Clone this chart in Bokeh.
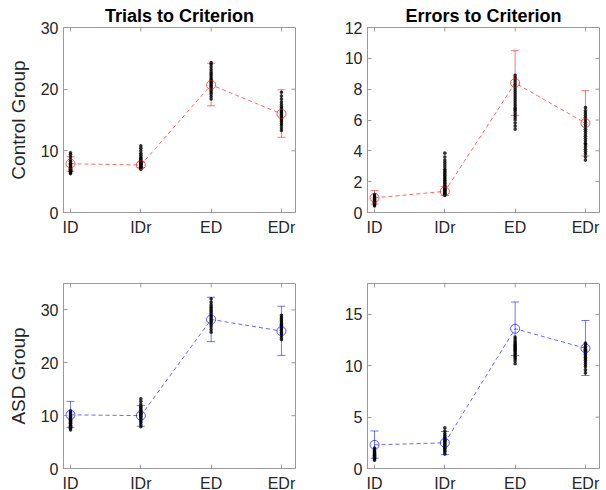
from bokeh.plotting import figure
from bokeh.models import (Range1d, FixedTicker, Whisker, TeeHead,
                          ColumnDataSource)
from bokeh.layouts import column, row
from bokeh.embed import file_html
from bokeh.resources import INLINE

# ---------------- data ----------------
categories = ["ID", "IDr", "ED", "EDr"]
cat_x = [1, 2, 3, 4]

# Control group, trials to criterion
ctl_trials_mean = [7.9, 7.7, 20.7, 16.0]
ctl_trials_lo = [6.7, 7.3, 17.3, 12.2]
ctl_trials_hi = [9.05, 8.2, 24.2, 19.9]
ctl_trials_dots = [
    [6.3, 6.45, 6.55, 6.6, 6.7, 6.75, 6.8, 6.9, 6.95, 7.0, 7.1, 7.2, 7.3, 7.45, 7.6, 7.8, 8.0, 8.3, 8.6, 9.0, 9.4, 9.7],
    [7.0, 7.2, 7.3, 7.4, 7.5, 7.6, 7.7, 7.8, 7.9, 8.0, 8.1, 8.25, 8.4, 8.6, 8.8, 9.0, 9.3, 9.6, 10.0, 10.4, 10.8],
    [18.4, 18.8, 19.2, 19.5, 19.8, 20.1, 20.4, 20.6, 20.8, 21.0, 21.2, 21.4, 21.6, 21.9, 22.2, 22.5, 22.8, 23.2, 23.6, 24.0, 24.3],
    [13.3, 13.7, 14.1, 14.4, 14.7, 15.0, 15.2, 15.4, 15.6, 15.8, 16.0, 16.2, 16.4, 16.6, 16.9, 17.2, 17.5, 17.9, 18.4, 18.9, 19.5],
]

# Control group, errors to criterion
ctl_errors_mean = [0.95, 1.37, 8.4, 5.8]
ctl_errors_lo = [0.55, 1.1, 6.3, 3.67]
ctl_errors_hi = [1.42, 1.7, 10.5, 7.9]
ctl_errors_dots = [
    [0.42, 0.48, 0.52, 0.56, 0.6, 0.63, 0.66, 0.7, 0.73, 0.76, 0.8, 0.84, 0.88, 0.93, 0.98, 1.04, 1.1, 1.18],
    [1.1, 1.15, 1.2, 1.25, 1.3, 1.35, 1.4, 1.45, 1.5, 1.55, 1.6, 1.7, 1.8, 1.9, 2.0, 2.1, 2.2, 2.3, 2.4, 2.5, 2.6, 2.7, 2.8, 2.95, 3.1, 3.25, 3.4, 3.6, 3.85],
    [5.4, 5.6, 5.8, 6.0, 6.15, 6.3, 6.45, 6.6, 6.7, 6.8, 6.95, 7.1, 7.25, 7.4, 7.55, 7.7, 7.85, 8.0, 8.15, 8.3, 8.45, 8.6, 8.75, 8.9],
    [3.4, 3.6, 3.8, 3.95, 4.1, 4.25, 4.4, 4.5, 4.65, 4.8, 4.95, 5.1, 5.25, 5.4, 5.55, 5.7, 5.85, 6.0, 6.15, 6.3, 6.45, 6.6, 6.8],
]

# ASD group, trials to criterion
asd_trials_mean = [10.15, 10.0, 28.2, 26.0]
asd_trials_lo = [7.8, 8.0, 24.0, 21.4]
asd_trials_hi = [12.7, 11.9, 32.4, 30.7]
asd_trials_dots = [
    [7.3, 7.6, 7.8, 8.0, 8.2, 8.4, 8.55, 8.7, 8.85, 9.0, 9.15, 9.3, 9.45, 9.6, 9.8, 10.0, 10.3, 10.6, 10.9],
    [7.9, 8.3, 8.7, 9.0, 9.3, 9.55, 9.8, 10.0, 10.2, 10.4, 10.6, 10.8, 11.0, 11.25, 11.5, 11.8, 12.2, 12.7, 13.2],
    [25.8, 26.3, 26.8, 27.2, 27.6, 27.9, 28.2, 28.5, 28.8, 29.1, 29.4, 29.7, 30.0, 30.3, 30.6, 31.0, 31.5, 32.1],
    [24.4, 24.8, 25.2, 25.5, 25.8, 26.1, 26.4, 26.6, 26.8, 27.0, 27.2, 27.4, 27.7, 28.0, 28.3, 28.6, 29.0],
]

# ASD group, errors to criterion
asd_errors_mean = [2.3, 2.5, 13.6, 11.7]
asd_errors_lo = [1.0, 1.35, 11.0, 9.05]
asd_errors_hi = [3.65, 3.6, 16.2, 14.4]
asd_errors_dots = [
    [0.8, 0.9, 0.98, 1.05, 1.1, 1.15, 1.2, 1.25, 1.3, 1.35, 1.4, 1.45, 1.5, 1.57, 1.65, 1.75, 1.87, 2.0],
    [1.4, 1.6, 1.75, 1.9, 2.0, 2.1, 2.2, 2.3, 2.4, 2.5, 2.6, 2.7, 2.8, 2.9, 3.05, 3.2, 3.4, 3.65, 3.95],
    [10.2, 10.45, 10.65, 10.8, 10.95, 11.1, 11.25, 11.4, 11.5, 11.6, 11.7, 11.8, 11.9, 12.0, 12.1, 12.25, 12.4, 12.6, 12.8],
    [9.3, 9.6, 9.9, 10.1, 10.3, 10.5, 10.65, 10.8, 10.95, 11.1, 11.25, 11.4, 11.5, 11.6, 11.75, 11.9, 12.05, 12.2],
]

titles = ["Trials to Criterion", "Errors to Criterion"]
row_labels = ["Control Group", "ASD Group"]

FONT = "Liberation Sans"
GREY = "#9a9a9a"
TXT = "#262626"
X_START, X_END = 0.9, 4.2


def make_panel(mean, lo, hi, dots, y_end, yticks, color, title, ylabel,
               b_left, b_right, b_top, b_bottom):
    p = figure(frame_width=232, frame_height=185, output_backend="svg",
               toolbar_location=None, x_range=Range1d(X_START, X_END),
               y_range=Range1d(0, y_end),
               min_border_left=b_left, min_border_right=b_right,
               min_border_top=b_top, min_border_bottom=b_bottom,
               background_fill_color="white", border_fill_color="white")
    p.xgrid.visible = False
    p.ygrid.visible = False
    p.outline_line_color = GREY
    p.outline_line_width = 1

    if title:
        p.title.text = title
        p.title.align = "center"
        p.title.text_font = FONT
        p.title.text_font_size = "18px"
        p.title.text_font_style = "bold"
        p.title.text_color = "black"
        p.title.standoff = 3

    # error bars
    src = ColumnDataSource(dict(x=cat_x, lower=lo, upper=hi))
    w = Whisker(base="x", lower="lower", upper="upper", source=src,
                line_color=color, line_alpha=0.55, line_width=1,
                upper_head=TeeHead(size=8, line_color=color, line_alpha=0.55),
                lower_head=TeeHead(size=8, line_color=color, line_alpha=0.55),
                level="underlay")
    p.add_layout(w)

    # dashed line of means
    p.line(cat_x, mean, line_color=color, line_alpha=0.6, line_width=1,
           line_dash="4 3")

    # dots
    xs, ys = [], []
    for xi, vals in zip(cat_x, dots):
        xs += [xi] * len(vals)
        ys += vals
    p.scatter(xs, ys, size=3.6, marker="circle", fill_color="black",
              line_color=None, fill_alpha=0.8)

    # mean markers
    p.scatter(cat_x, mean, size=9, marker="circle", fill_color=None,
              line_color=color, line_alpha=0.65, line_width=1)

    # inward ticks on the top and right edges of the box (clipped to frame)
    p.scatter(cat_x, [y_end] * len(cat_x), marker="dash", angle=1.5708,
              size=8, line_color=GREY, line_width=1)
    p.scatter([X_END] * len(yticks), yticks, marker="dash",
              size=8, line_color=GREY, line_width=1)

    # axes styling
    def style(ax):
        ax.axis_line_color = GREY
        ax.major_tick_line_color = GREY
        ax.major_tick_in = 4
        ax.major_tick_out = 0
        ax.minor_tick_line_color = None
        ax.major_label_text_font = FONT
        ax.major_label_text_color = TXT
        ax.major_label_text_font_size = "16px"

    xax = p.xaxis[0]
    xax.ticker = FixedTicker(ticks=cat_x)
    xax.major_label_overrides = {x: c for x, c in zip(cat_x, categories)}
    style(xax)
    xax.major_label_standoff = 6

    yax = p.yaxis[0]
    yax.ticker = FixedTicker(ticks=yticks)
    style(yax)
    yax.major_label_standoff = 5
    if ylabel:
        yax.axis_label = ylabel
        yax.axis_label_text_font = FONT
        yax.axis_label_text_font_size = "19px"
        yax.axis_label_text_font_style = "normal"
        yax.axis_label_text_color = TXT
        yax.axis_label_standoff = 9
    return p


p1 = make_panel(ctl_trials_mean, ctl_trials_lo, ctl_trials_hi, ctl_trials_dots,
                30, [0, 10, 20, 30], "red", titles[0], row_labels[0],
                63, 8, 27, 33)
p2 = make_panel(ctl_errors_mean, ctl_errors_lo, ctl_errors_hi, ctl_errors_dots,
                12, [0, 2, 4, 6, 8, 10, 12], "red", titles[1], None,
                64, 7, 26, 34)
p3 = make_panel(asd_trials_mean, asd_trials_lo, asd_trials_hi, asd_trials_dots,
                35, [0, 10, 20, 30], "blue", None, row_labels[1],
                63, 8, 38, 30)
p4 = make_panel(asd_errors_mean, asd_errors_lo, asd_errors_hi, asd_errors_dots,
                18, [0, 5, 10, 15], "blue", None, None,
                64, 7, 38, 30)

layout = column(row(p1, p2), row(p3, p4))
open("out.html", "w").write(file_html(layout, INLINE))
